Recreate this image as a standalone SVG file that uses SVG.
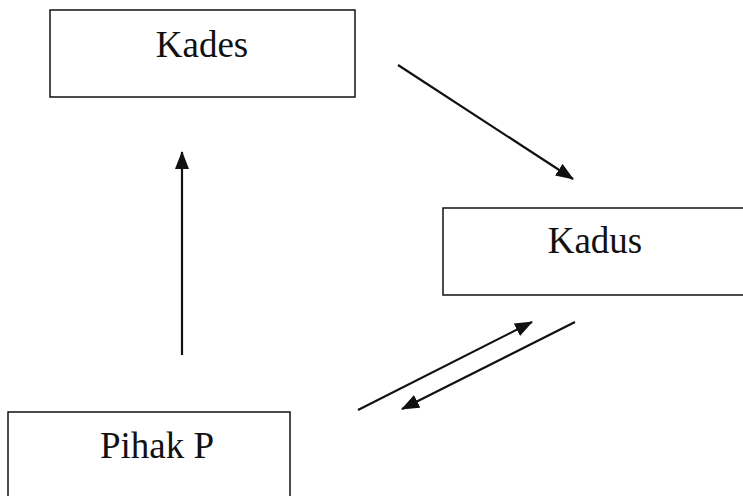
<svg xmlns="http://www.w3.org/2000/svg" width="743" height="496" viewBox="0 0 743 496">
  <style>
    .box { fill: #ffffff; stroke: #111111; stroke-width: 1.5; }
    .label { font-family: "Liberation Serif", "Times New Roman", serif; font-size: 37px; fill: #111111; text-anchor: middle; }
    .edge { stroke: #111111; stroke-width: 2.2; fill: none; marker-end: url(#arrow); }
  </style>
  <defs>
    <marker id="arrow" viewBox="0 0 18 14" refX="17" refY="7" markerWidth="18" markerHeight="14" markerUnits="userSpaceOnUse" orient="auto">
      <path d="M0,0 L18,7 L0,14 Z" fill="#111111"/>
    </marker>
  </defs>
  <rect width="743" height="496" fill="#ffffff"/>

  <g id="kades">
    <rect class="box" x="50" y="10" width="305" height="87"/>
    <text class="label" x="202" y="57">Kades</text>
  </g>

  <g id="kadus">
    <rect class="box" x="443" y="208" width="320" height="87"/>
    <text class="label" x="595" y="253">Kadus</text>
  </g>

  <g id="pihak-p">
    <rect class="box" x="8" y="412" width="282" height="100"/>
    <text class="label" x="157" y="458">Pihak P</text>
  </g>

  <g id="connectors">
    <line class="edge" x1="398" y1="65" x2="573" y2="179"/>
    <line class="edge" x1="182" y1="355" x2="182" y2="152"/>
    <line class="edge" x1="358" y1="410" x2="532" y2="322"/>
    <line class="edge" x1="575" y1="322" x2="402" y2="409"/>
  </g>
</svg>
